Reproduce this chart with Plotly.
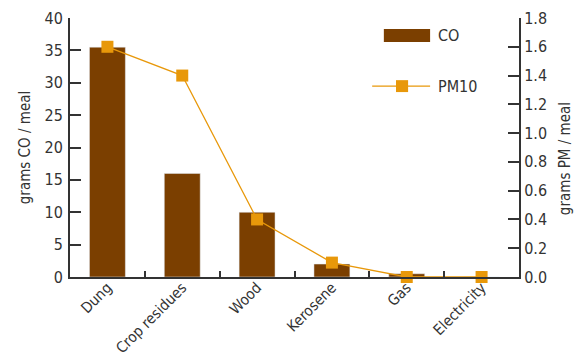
import plotly.graph_objects as go

categories = ["Dung", "Crop residues", "Wood", "Kerosene", "Gas", "Electricity"]
co_values = [35.5, 16.0, 10.0, 2.0, 0.5, 0.0]
pm10_values = [1.6, 1.4, 0.4, 0.1, 0.0, 0.0]

BROWN = "#7B3F00"
ORANGE = "#E8980A"
AXIS = "#333333"
FONT = "DejaVu Sans Condensed, Liberation Sans Narrow, sans-serif"

fig = go.Figure()
fig.add_trace(go.Bar(x=categories, y=co_values, name="CO", marker_color=BROWN,
                     width=0.48, yaxis="y", showlegend=False))
fig.add_trace(go.Scatter(x=categories, y=pm10_values, name="PM10", mode="lines+markers",
                         line=dict(color=ORANGE, width=1.3),
                         marker=dict(symbol="square", size=12, color=ORANGE),
                         yaxis="y2", showlegend=False, cliponaxis=False))

# manual legend
shapes = [
    dict(type="rect", xref="paper", yref="paper", x0=0.699, x1=0.802, y0=0.907, y1=0.958,
         fillcolor=BROWN, line_width=0),
    dict(type="line", xref="paper", yref="paper", x0=0.673, x1=0.802, y0=0.737, y1=0.737,
         line=dict(color=ORANGE, width=1.3)),
    dict(type="rect", xref="paper", yref="paper", x0=0.726, x1=0.753, y0=0.714, y1=0.760,
         fillcolor=ORANGE, line_width=0),
]
annotations = [
    dict(text="CO", xref="paper", yref="paper", x=0.816, y=0.934, xanchor="left",
         yanchor="middle", showarrow=False, font=dict(size=16, color=AXIS, family=FONT)),
    dict(text="PM10", xref="paper", yref="paper", x=0.816, y=0.737, xanchor="left",
         yanchor="middle", showarrow=False, font=dict(size=16, color=AXIS, family=FONT)),
    dict(text="grams PM / meal", xref="paper", yref="paper", x=1.103, y=0.456,
         xanchor="center", yanchor="middle", textangle=-90, showarrow=False,
         font=dict(size=15, color=AXIS, family=FONT)),
]

fig.update_layout(
    width=583, height=360,
    margin=dict(l=62, r=72, t=10, b=91, autoexpand=False),
    plot_bgcolor="white", paper_bgcolor="white",
    font=dict(family=FONT, size=16, color=AXIS),
    bargap=0.52,
    shapes=shapes, annotations=annotations,
    xaxis=dict(showline=True, linecolor=AXIS, linewidth=2, ticks="inside", ticklen=6,
               tickcolor=AXIS, tickwidth=2, tickson="boundaries", tickangle=-45,
               showgrid=False, tickfont=dict(size=15), automargin=False,
               ticklabelstandoff=-6),
    yaxis=dict(range=[0, 40], dtick=5, showline=True, linecolor=AXIS, linewidth=2,
               ticks="inside", ticklen=11, tickcolor=AXIS, tickwidth=2, showgrid=False,
               zeroline=False, automargin=False, ticklabelstandoff=2,
               title=dict(text="grams CO / meal", font=dict(size=15), standoff=10)),
    yaxis2=dict(range=[0, 1.8], dtick=0.2, tickformat=".1f", overlaying="y", side="right",
                showline=True, linecolor=AXIS, linewidth=2, ticks="inside", ticklen=11,
                tickcolor=AXIS, tickwidth=2, showgrid=False, zeroline=False, automargin=False,
                ticklabelstandoff=0),
)

fig.write_html("out.html")
